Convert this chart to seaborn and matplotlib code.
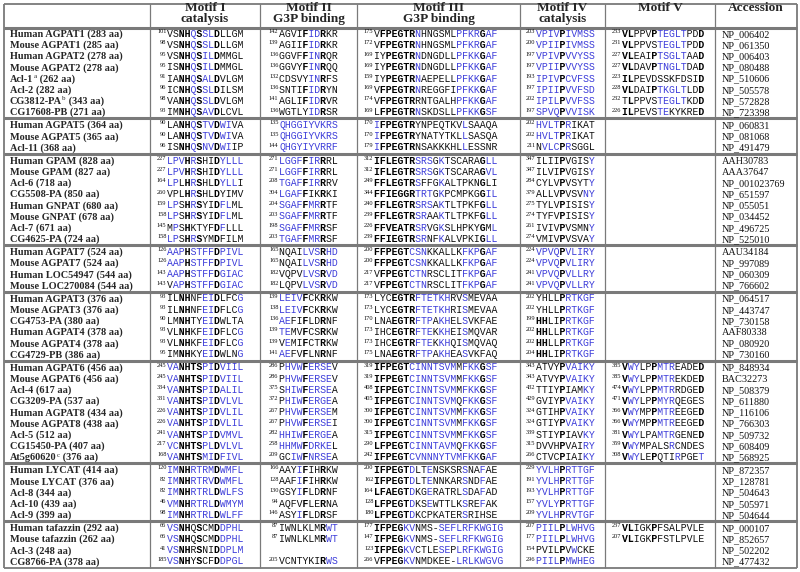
import matplotlib
matplotlib.use("Agg")
import matplotlib.pyplot as plt
import seaborn as sns

sns.set_theme(style="white")
plt.rcParams['font.family'] = ['Liberation Serif', 'DejaVu Serif']

# ---------------- data ----------------
# markup: lowercase = blue residue, [..] = bold residue, plain uppercase = normal
group_sizes = [8, 3, 8, 4, 6, 9, 5, 4]

headers = [("Motif I", "catalysis"), ("Motif II", "G3P binding"), ("Motif III", "G3P binding"),
           ("Motif IV", "catalysis"), ("Motif V", None), ("Accession", None)]

names = [
    "Human AGPAT1 (283 aa)", "Mouse AGPAT1 (285 aa)", "Human AGPAT2 (278 aa)", "Mouse AGPAT2 (278 aa)",
    "Acl-1^a (262 aa)", "Acl-2 (282 aa)", "CG3812-PA^b (343 aa)", "CG17608-PB (271 aa)",
    "Human AGPAT5 (364 aa)", "Mouse AGPAT5 (365 aa)", "Acl-11 (368 aa)",
    "Human GPAM (828 aa)", "Mouse GPAM (827 aa)", "Acl-6 (718 aa)", "CG5508-PA (850 aa)",
    "Human GNPAT (680 aa)", "Mouse GNPAT (678 aa)", "Acl-7 (671 aa)", "CG4625-PA (724 aa)",
    "Human AGPAT7 (524 aa)", "Mouse AGPAT7 (524 aa)", "Human LOC54947 (544 aa)", "Mouse LOC270084 (544 aa)",
    "Human AGPAT3 (376 aa)", "Mouse AGPAT3 (376 aa)", "CG4753-PA (380 aa)", "Human AGPAT4 (378 aa)",
    "Mouse AGPAT4 (378 aa)", "CG4729-PB (386 aa)",
    "Human AGPAT6 (456 aa)", "Mouse AGPAT6 (456 aa)", "Acl-4 (617 aa)", "CG3209-PA (537 aa)",
    "Human AGPAT8 (434 aa)", "Mouse AGPAT8 (438 aa)", "Acl-5 (512 aa)", "CG15450-PA (407 aa)",
    "At5g60620^c (376 aa)",
    "Human LYCAT (414 aa)", "Mouse LYCAT (376 aa)", "Acl-8 (344 aa)", "Acl-10 (439 aa)", "Acl-9 (399 aa)",
    "Human tafazzin (292 aa)", "Mouse tafazzin (262 aa)", "Acl-3 (248 aa)", "CG8766-PA (378 aa)",
]

motif1_pos = [101, 98, 95, 95, 91, 96, 98, 93,
              90, 90, 96,
              227, 227, 164, 260, 159, 158, 145, 158,
              126, 126, 143, 143,
              93, 93, 90, 93, 93, 95,
              245, 245, 334, 331, 226, 226, 241, 217, 168,
              120, 82, 82, 46, 98,
              66, 66, 41, 185]
motif1_seq = [
    "VS[NH]q[S]sl[D]LLGM", "VS[NH]q[S]sl[D]LLGM", "VS[NH]q[S]il[D]MMGL", "IS[NH]q[S]il[D]MMGL",
    "IA[NH]q[S]al[D]VLGM", "IC[NH]q[S]sl[D]ILSM", "VA[NH]q[S]sl[D]VLGM", "IM[NH]q[S]av[D]LCVL",
    "LA[NH]q[S]tv[D]wiVA", "LA[NH]q[S]tv[D]wiVA", "IS[NH]q[S]nv[D]wiIP",
    "lpv[H]r[S]HI[D]ylll", "lpv[H]r[S]HI[D]ylll", "lpL[H]r[S]HL[D]yllI", "VPL[H]r[S]HL[D]YIMV",
    "lpS[H]r[S]YI[D]flML", "lpS[H]r[S]YI[D]flML", "MpS[H]KTYF[D]fLLL", "lpS[H]r[S]YM[D]FILM",
    "aap[H]stff[D]pivl", "aap[H]stff[D]pivl", "aap[H]stff[D]giac", "Vap[H]stff[D]giac",
    "IL[NH]NFei[D]LFCg", "IL[NH]NFei[D]FLCg", "LM[NH]TYei[D]WLTA", "VL[NH]KFei[D]FLCg",
    "VL[NH]KFei[D]FLCg", "IM[NH]KYei[D]WLNg",
    "va[NHTS]pi[D]viil", "va[NHTS]pi[D]viil", "va[NHTS]pi[D]alil", "va[NHTS]pi[D]vlvl",
    "va[NHTS]pi[D]vlil", "va[NHTS]pi[D]vlil", "va[NHTS]pi[D]vmvl", "vc[NHTS]pl[D]vlvl",
    "va[NHTS]mi[D]fivl",
    "im[NH]rtrm[D]wmfl", "im[NH]rtrv[D]wmfl", "im[NH]rtrl[D]wlfs", "vm[NH]rtrl[D]wmym", "im[NH]rtrl[D]wlff",
    "vs[NH]Q[S]CM[D]dphl", "vs[NH]Q[S]CM[D]dphl", "vs[NH]R[S]NI[D]dplm", "vs[NH]Y[S]CF[D]dpgl",
]

motif2_pos = [142, 139, 136, 136, 132, 136, 141, 136,
              135, 135, 144,
              271, 271, 208, 304, 204, 203, 198, 203,
              165, 165, 182, 182,
              139, 138, 136, 139, 139, 141,
              286, 286, 375, 372, 267, 267, 282, 258, 209,
              166, 128, 130, 94, 146,
              87, 87, None, 205]
motif2_seq = [
    "AGVI[F]id[R]KR", "AGII[F]id[R]KR", "GGVF[F]in[R]QR", "GGVY[F]in[R]QQ",
    "CDSVYin[R]FS", "SNTI[F]id[R]YN", "AGLI[F]id[R]VR", "WGTLYid[R]SR",
    "qhggiyvkrs", "qhggiyvkrs", "qhgyiyvrrf",
    "lggf[F]ir[R]RL", "lggf[F]ir[R]RL", "tgaf[F]ir[R]RV", "lgaf[F]IK[R]KI",
    "sgaf[F]mr[R]TF", "sgaf[F]mr[R]TF", "sgaf[F]mr[R]SF", "tgaf[F]mr[R]SF",
    "NQAIlvs[R]hd", "NQAIlvs[R]hd", "VQPVlvs[R]vd", "LQPVlvs[R]vd",
    "leiv[F]CK[R]KW", "leiv[F]CK[R]KW", "aeFI[F]LD[R]NF", "teMV[F]CS[R]KW",
    "VeMI[F]CT[R]KW", "aeFV[F]LN[R]NF",
    "Phvw[F]erseV", "Phvw[F]erseV", "Shiw[F]erseA", "Phiw[F]ergeA",
    "Phvw[F]erseM", "Phvw[F]erseI", "hhiw[F]ergeA", "hhmw[F]drkeL", "GCiw[F]nrseA",
    "AAYi[F]IH[R]KW", "AAFi[F]IH[R]KW", "GSYi[F]LD[R]NF", "AQFV[F]LE[R]NA", "ASYi[F]LD[R]SF",
    "IWNLKLM[R]wt", "IWNLKLM[R]wt", None, "VCNTYKI[R]ws",
]

motif3_pos = [175, 172, 169, 169, 159, 169, 174, 169,
              170, 170, 179,
              312, 312, 249, 344, 240, 239, 226, 239,
              200, 200, 217, 217,
              173, 173, 170, 173, 173, 175,
              319, 319, 408, 405, 300, 300, 315, 290, 242,
              200, 162, 164, 128, 180,
              177, 147, 123, 266]
motif3_seq = [
    "V[FPEGTR]nHNGSMLpfkr[G]af", "V[FPEGTR]nHNGSMLpfkr[G]af", "IY[PEGTR]nDNGDLLpfkk[G]af",
    "IY[PEGTR]nDNGDLLpfkk[G]af", "IY[PEGTR]nAEPELLpfkk[G]af", "V[FPEGTR]nREGGFIpfkk[G]af",
    "V[FPEGTR]RNTGALHpfkk[G]af", "L[FPEGTR]nSKDSLLpfkk[G]sf",
    "i[FPEGTR]YNPEQTKVlSAAQA", "i[FPEGTR]YNATYTKLlSASQA", "i[FPEGTR]NSAKKKHLlESSNR",
    "[IFLEGTR]srsGkTSCARA[G]ll", "[IFLEGTR]srsGkTSCARA[G]vl", "[FFLEGTR]sFFGkALTPKN[G]LI",
    "[FFIEGGR]trtGkPCMPKG[G]il", "[FFLEGTR]srsAkTLTPKF[G]ll", "[FFLEGTR]srAAkTLTPKF[G]ll",
    "[FFVEATR]srVGkSLHPKY[G]Ml", "[FFIEGTR]srNFkALVPKI[G]ll",
    "[FFPEGT]csnKKALLKfkp[G]af", "[FFPEGT]csnKKALLKfkp[G]af",
    "V[FPEGT]ctnRSCLITfkp[G]af", "V[FPEGT]ctnRSCLITfkp[G]af",
    "LYC[EGTR]ftetkhRVsMEVAA", "LYC[EGTR]ftetkhRIsMEVAA", "LNA[EGTR]ftpAkhELsVKFAE",
    "IHC[EGTR]fteKkhEIsMQVAR", "IHC[EGTR]fteKkhQIsMQVAQ", "LNA[EGTR]ftpAkhEAsVKFAQ",
    "[IFPEGT]cinntsvmMfkk[G]sf", "[IFPEGT]cinntsvmMfkk[G]sf", "[IFPEGT]cinntsvmMfkk[G]sf",
    "[IFPEGT]cinntsvmQfkk[G]sf", "[IFPEGT]cinntsvmMfkk[G]sf", "[IFPEGT]cinntsvmMfkk[G]sf",
    "[IFPEGT]cinntsvmMfkk[G]sf", "[LFPEGT]cinntavmQfkk[G]sf", "[IFPEGT]cvnnnytvmfkk[G]af",
    "[IFPEGT]dLTeNSKSRsNAfAE", "[IFPEGT]dLTeNNKARsNDfAE", "[LFAEGT]dKGeRATRLsDAfAD",
    "[LFPEGT]dKSeWTTLKsREfAK", "[LFPEGT]dKCPKATERsRIHSE",
    "[IFPEG]kvNMS-seflrfkwgig", "[IFPEG]kvNMS-seflrfkwgig", "[IFPEG]kvCTLEsePlrfkwgig",
    "V[FPEG]kvNMDKEE-lrlkwgvg",
]

motif4_pos = [203, 200, 197, 197, 193, 197, 202, 197,
              202, 202, 211,
              347, 347, 284, 379, 275, 274, 261, 274,
              224, 224, 241, 241,
              202, 202, 199, 202, 202, 204,
              343, 343, 432, 429, 324, 324, 339, 315, 266,
              229, 191, 193, 157, 209,
              207, 177, 154, 296]
motif4_seq = [
    "vpiv[P]ivmss", "vpii[P]ivmss", "vpiv[P]vvyss", "vpii[P]vvyss",
    "ipiv[P]cvfss", "ipii[P]vvfsd", "ipil[P]vvfss", "spvq[P]vvisk",
    "hvlt[P]rIKAT", "hvlt[P]rIKAT", "Nvlc[P]rSGGL",
    "ILII[P]VGISy", "ILVI[P]VGISy", "CYLV[P]VSYTy", "ALLV[P]VSVny",
    "TYLV[P]ISISy", "TYFV[P]ISISy", "IVIV[P]VSMNy", "VMIV[P]VSVAy",
    "vpvq[P]vliry", "vpvq[P]vliry", "vpvq[P]vllry", "vpvq[P]vllry",
    "YHLL[P]rtkgf", "YHLL[P]rtkgf", "[HH]LI[P]rtkgf", "[HH]LL[P]rtkgf", "[HH]LL[P]rtkgf", "[HH]LI[P]rtkgf",
    "ATVY[P]vaiky", "ATVY[P]vaiky", "TTIY[P]IAMky", "GVIY[P]vaiky", "GTIH[P]vaiky",
    "GTIY[P]vaiky", "STIY[P]IAVky", "DVVH[P]VAIry", "CTVC[P]IAIky",
    "yvlh[P]rttgf", "yvlh[P]rttgf", "yvlh[P]rttgf", "yvly[P]rttgf", "yvlh[P]rvtgf",
    "piil[P]lwhvg", "piil[P]lwhvg", "PVIL[P]VwCKE", "piil[P]mwheg",
]

motif5_pos = [233, 231, 227, 227, 223, 228, 232, 226,
              None, None, None,
              None, None, None, None, None, None, None, None,
              None, None, None, None,
              None, None, None, None, None, None,
              385, 385, 474, 471, 366, 366, 381, 359, 308,
              None, None, None, None, None,
              237, 207, None, None]
motif5_seq = [
    "[VL]PPV[P]tegltPD[D]", "[VL]PPVStegltPD[D]", "[VL]EAI[P]tsgltAA[D]", "[VL]DAV[P]tngltDA[D]",
    "[IL]PEVDSSKFDSI[D]", "[VL]DAI[P]tkgltLD[D]", "T[L]PPVStegltKD[D]", "[IL]PEVSteKYKRE[D]",
    None, None, None,
    None, None, None, None, None, None, None, None,
    None, None, None, None,
    None, None, None, None, None, None,
    "[V]wyLP[P]mtrEADE[D]", "[V]wyLP[P]mtrEKDE[D]", "[V]wyLP[P]mtrRDGE[D]", "[V]wyLP[P]myrQEGES",
    "[V]wyMP[P]mtrEEGE[D]", "[V]wyMP[P]mtrEEGE[D]", "[V]wyLPAmtrGENE[D]", "[V]wyMPALSrCNDES",
    "[V]wyLE[P]QTIrPGEt",
    None, None, None, None, None,
    "[VL]IGK[P]FSALPVLE", "[VL]IGK[P]FSTLPVLE", None, None,
]

accessions = [
    "NP_006402", "NP_061350", "NP_006403", "NP_080488", "NP_510606", "NP_505578", "NP_572828", "NP_723398",
    "NP_060831", "NP_081068", "NP_491479",
    "AAH30783", "AAA37647", "NP_001023769", "NP_651597", "NP_055051", "NP_034452", "NP_496725", "NP_525010",
    "AAU34184", "NP_997089", "NP_060309", "NP_766602",
    "NP_064517", "NP_443747", "NP_730158", "AAF80338", "NP_080920", "NP_730160",
    "NP_848934", "BAC32273", "NP_508379", "NP_611880", "NP_116106", "NP_766303", "NP_509732",
    "NP_608409", "NP_568925",
    "NP_872357", "XP_128781", "NP_504643", "NP_505971", "NP_504644",
    "NP_000107", "NP_852657", "NP_502202", "NP_477432",
]

# ---------------- styling / layout ----------------
BLUE = "#3d3dda"
GRID = "#7a7a7a"
MONO = "Liberation Mono"
SERIF = ["Liberation Serif", "DejaVu Serif"]
SEQ_FS = 7.1
NAME_FS = 7.4
HEAD_FS = 9.6
SUP_FS = 4.6

col_edges = [3.5, 150, 260, 357, 520, 605, 715, 796.5]
seq_x = [167, 279, 374, 536, 622]
top, head_bottom, bottom = 3.5, 27.5, 567.5
row_step, group_gap, first_row = 11.2, 1.8, 33.4

fig = plt.figure(figsize=(8, 5.72), dpi=100)
ax = fig.add_axes([0, 0, 1, 1])
ax.set_xlim(0, 800)
ax.set_ylim(572, 0)
ax.axis("off")
renderer = fig.canvas.get_renderer()

# row centres
row_y, seps = [], []
y = first_row
for g, n in enumerate(group_sizes):
    for k in range(n):
        row_y.append(y)
        if k < n - 1:
            y += row_step
    if g < len(group_sizes) - 1:
        seps.append(y + (row_step + group_gap) / 2)
        y += row_step + group_gap


def parse(markup):
    plain, bold, blue = [], [], []
    is_bold = False
    for ch in markup:
        if ch == "[":
            is_bold = True
            continue
        if ch == "]":
            is_bold = False
            continue
        if is_bold:
            plain.append(" "); bold.append(ch); blue.append(" ")
        elif ch.islower():
            plain.append(" "); bold.append(" "); blue.append(ch.upper())
        else:
            plain.append(ch); bold.append(" "); blue.append(" ")
    return "".join(plain), "".join(bold), "".join(blue)


def draw_seq(x, yc, pos, markup):
    if markup is None:
        return
    base = yc + 3.3
    p, b, u = parse(markup)
    for s, w, c in ((p, "normal", "#111111"), (b, "bold", "black"), (u, "normal", BLUE)):
        if s.strip():
            ax.text(x, base, s, family=MONO, fontsize=SEQ_FS, fontweight=w, color=c,
                    ha="left", va="baseline")
    if pos is not None:
        ax.text(x - 0.6, base - 3.6, str(pos), family=SERIF, fontsize=SUP_FS,
                color="#111111", ha="right", va="baseline")


# grid lines
ax.hlines([top, bottom], col_edges[0], col_edges[-1], color=GRID, lw=1.3)
ax.vlines([col_edges[0], col_edges[-1]], top, bottom, color=GRID, lw=1.3)
ax.vlines(col_edges[1:-1], top, bottom, color=GRID, lw=0.9)
ax.hlines([head_bottom] + seps, col_edges[0], col_edges[-1], color=GRID, lw=2.2)

# headers
for i, (l1, l2) in enumerate(headers):
    xc = (col_edges[i + 1] + col_edges[i + 2]) / 2
    ax.text(xc, 8.2, l1, family=SERIF, fontsize=HEAD_FS, fontweight="bold", ha="center", va="center")
    if l2:
        ax.text(xc, 19.2, l2, family=SERIF, fontsize=HEAD_FS, fontweight="bold", ha="center", va="center")

# rows
for i, yc in enumerate(row_y):
    base = yc + 3.4
    name = names[i]
    if "^" in name:
        head, rest = name.split("^")
        sup, tail = rest[0], rest[1:]
        t = ax.text(10, base, head, family=SERIF, fontsize=NAME_FS, fontweight="bold", ha="left", va="baseline")
        x1 = t.get_window_extent(renderer).x1
        t2 = ax.text(x1 + 0.3, base - 3.5, sup, family=SERIF, fontsize=SUP_FS + 0.4, ha="left", va="baseline")
        x2 = t2.get_window_extent(renderer).x1
        ax.text(x2, base, tail, family=SERIF, fontsize=NAME_FS, fontweight="bold", ha="left", va="baseline")
    else:
        ax.text(10, base, name, family=SERIF, fontsize=NAME_FS, fontweight="bold", ha="left", va="baseline")

    for k, (pos_list, seq_list) in enumerate(((motif1_pos, motif1_seq), (motif2_pos, motif2_seq),
                                              (motif3_pos, motif3_seq), (motif4_pos, motif4_seq),
                                              (motif5_pos, motif5_seq))):
        draw_seq(seq_x[k], yc, pos_list[i], seq_list[i])

    ax.text(722, base, accessions[i], family=SERIF, fontsize=7.3, ha="left", va="baseline", color="#111111")

fig.savefig("out.png", dpi=100, facecolor="white")
